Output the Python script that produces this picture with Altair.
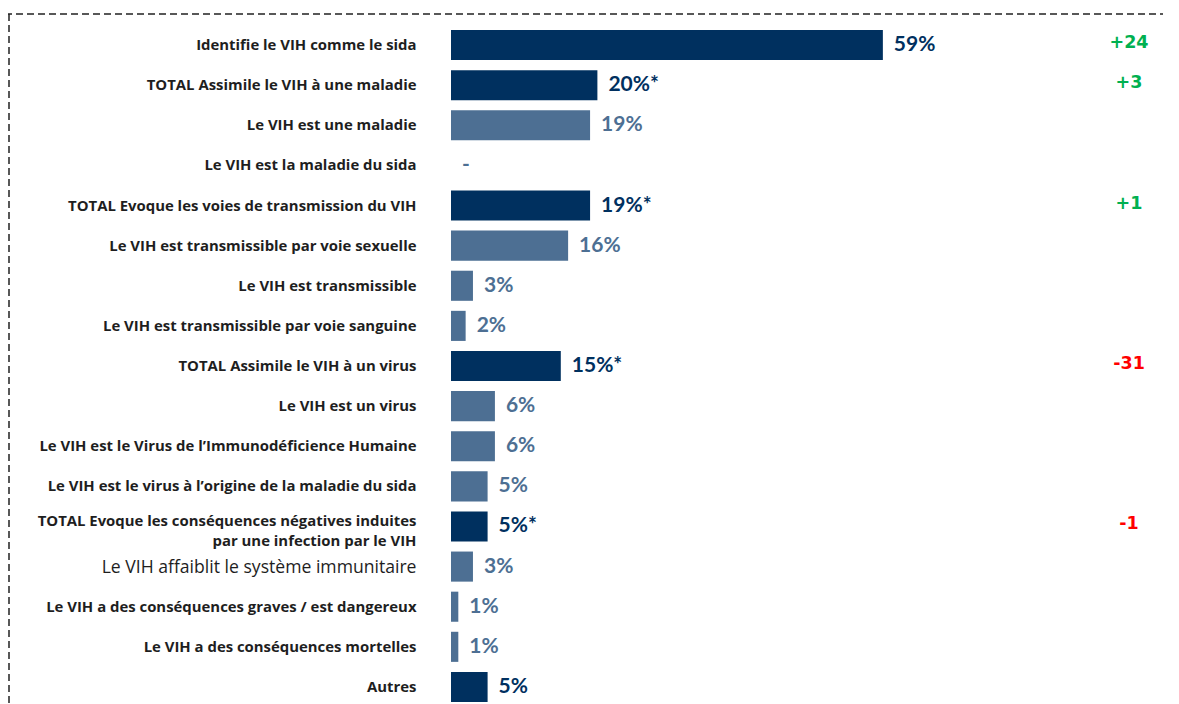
import altair as alt
import pandas as pd

categories = [
    "Identifie le VIH comme le sida",
    "TOTAL Assimile le VIH à une maladie",
    "Le VIH est une maladie",
    "Le VIH est la maladie du sida",
    "TOTAL Evoque les voies de transmission du VIH",
    "Le VIH est transmissible par voie sexuelle",
    "Le VIH est transmissible",
    "Le VIH est transmissible par voie sanguine",
    "TOTAL Assimile le VIH à un virus",
    "Le VIH est un virus",
    "Le VIH est le Virus de l’Immunodéficience Humaine",
    "Le VIH est le virus à l’origine de la maladie du sida",
    "TOTAL Evoque les conséquences négatives induites|par une infection par le VIH",
    "Le VIH affaiblit le système immunitaire",
    "Le VIH a des conséquences graves / est dangereux",
    "Le VIH a des conséquences mortelles",
    "Autres",
]
values = [59, 20, 19, 0, 19, 16, 3, 2, 15, 6, 6, 5, 5, 3, 1, 1, 5]
value_labels = ["59%", "20%*", "19%", "-", "19%*", "16%", "3%", "2%", "15%*",
                "6%", "6%", "5%", "5%*", "3%", "1%", "1%", "5%"]
kinds = ["total", "total", "sub", "sub", "total", "sub", "sub", "sub", "total",
         "sub", "sub", "sub", "total", "sub", "sub", "sub", "total"]

delta_categories = [categories[0], categories[1], categories[4], categories[8], categories[12]]
delta_labels = ["+24", "+3", "+1", "-31", "-1"]
delta_colors = ["#00B050", "#00B050", "#00B050", "#FF0000", "#FF0000"]

df = pd.DataFrame({"cat": categories, "val": values, "lab": value_labels, "kind": kinds})
ddf = pd.DataFrame({"cat": delta_categories, "lab": delta_labels, "col": delta_colors})
one = pd.DataFrame({"a": [0]})

FONT = "Lato"
LABEL_FONT = "Open Sans"
kind_scale = alt.Scale(domain=["total", "sub"], range=["#00305F", "#4D6F93"])
text_scale = alt.Scale(domain=["total", "sub"], range=["#0B2A55", "#4D6F93"])

AFF = "indexof(datum.value, 'affaiblit') >= 0"
TWO = "indexof(datum.value, '|') >= 0"

y_enc = alt.Y(
    "cat:N",
    sort=categories,
    scale=alt.Scale(paddingInner=0.25, paddingOuter=0.125),
    axis=alt.Axis(
        title=None,
        ticks=False,
        domain=False,
        labelPadding=35,
        labelFont=LABEL_FONT,
        labelColor="#1E1E1E",
        labelFontSize={"condition": {"test": AFF, "value": 17.6}, "value": 14.9},
        labelFontWeight={"condition": {"test": AFF, "value": "normal"}, "value": "bold"},
        labelOffset={"condition": {"test": TWO, "value": -4}, "value": 1},
        labelExpr="split(datum.label, '|')",
        labelLineHeight=20,
        labelLimit=600,
    ),
)
x_enc = alt.X("val:Q", scale=alt.Scale(domain=[0, 97.27]), axis=None)

bars = alt.Chart(df).mark_bar().encode(
    y=y_enc,
    x=x_enc,
    color=alt.Color("kind:N", scale=kind_scale, legend=None),
)

vlabels = alt.Chart(df).mark_text(
    align="left", baseline="middle", dx=11, font=FONT, fontSize=21, fontWeight="bold"
).encode(
    y=alt.Y("cat:N", sort=categories),
    x=x_enc,
    text="lab:N",
    color=alt.Color("kind:N", scale=text_scale, legend=None),
)

deltas = alt.Chart(ddf).mark_text(
    align="center", baseline="middle", dy=-2, font="DejaVu Sans", fontSize=17.5, fontWeight="bold"
).encode(
    y=alt.Y("cat:N", sort=categories),
    x=alt.value(678),
    text="lab:N",
    color=alt.Color("col:N", scale=None),
)

top_border = alt.Chart(one).mark_rule(strokeDash=[7, 4], strokeWidth=1.5, color="#222222").encode(
    x=alt.value(-446), x2=alt.value(740), y=alt.value(-11)
)
left_border = alt.Chart(one).mark_rule(strokeDash=[7, 4], strokeWidth=1.5, color="#222222").encode(
    x=alt.value(-442), y=alt.value(-11), y2=alt.value(700)
)

chart = alt.layer(bars, vlabels, deltas, top_border, left_border).properties(
    width=712,
    height=682,
    padding={"left": 443, "top": 17, "right": 0, "bottom": 0},
    autosize="none",
).configure_view(stroke=None)

chart.save("out.html", embed_options={"renderer": "svg", "actions": False})
